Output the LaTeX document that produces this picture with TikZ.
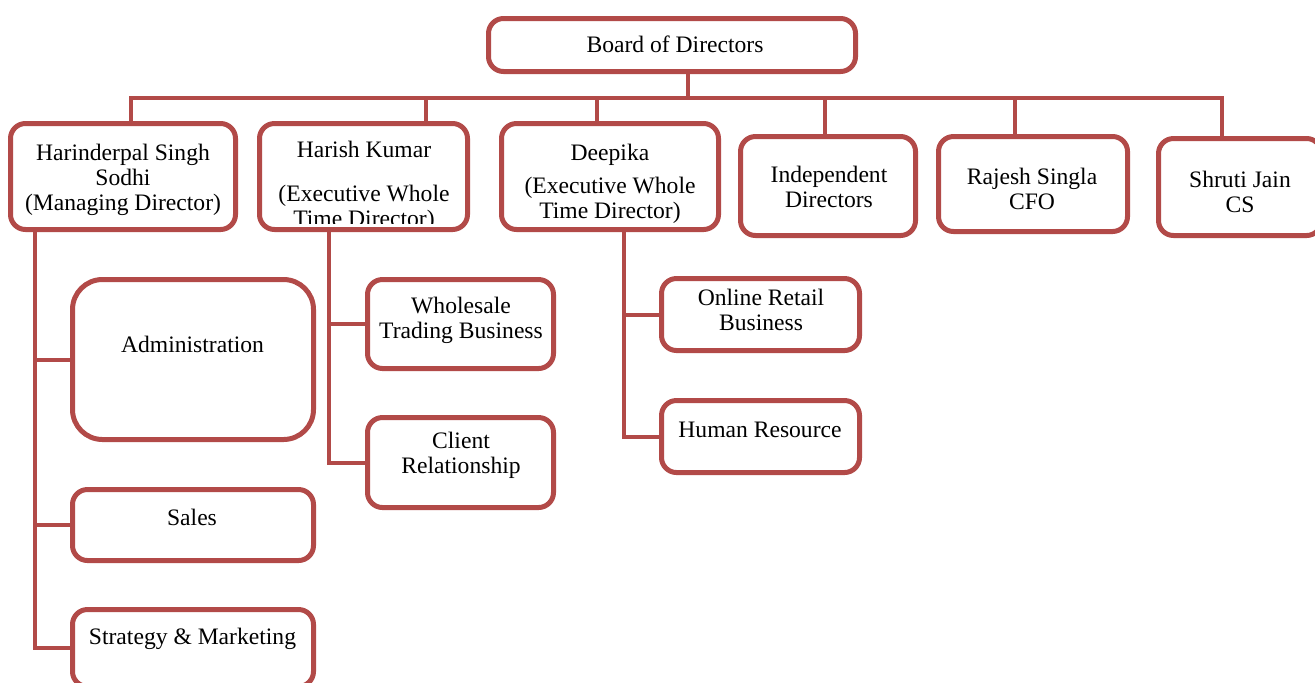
\documentclass[tikz,border=0pt]{standalone}
\usepackage{fontspec}
\setmainfont{Liberation Serif}
\definecolor{boxred}{RGB}{178,74,72}
\tikzstyle{box}=[draw=boxred, line width=2.5pt, rounded corners=7.5pt, inner sep=0pt]
\tikzstyle{txt}=[align=center, inner sep=0pt, yshift=-1pt, font=\fontsize{11.8}{12.5}\selectfont]
\tikzstyle{link}=[draw=boxred, line width=2pt]
\begin{document}
\begin{tikzpicture}[x=0.5pt,y=-0.5pt]
  \useasboundingbox (0,0) rectangle (1315,682);
  % boxes
  \node[box] at (672,45) (board)[minimum width=183.5pt, minimum height=26.5pt] {};
  \node[box] at (123,176.5) (hsodhi)[minimum width=112.5pt, minimum height=53pt] {};
  \node[box] at (363.5,176.5) (hkumar)[minimum width=104pt, minimum height=53pt] {};
  \node[box] at (610,176.5) (deepika)[minimum width=108.5pt, minimum height=53pt] {};
  \node[box] at (828,186) (indep)[minimum width=87.5pt, minimum height=49.5pt] {};
  \node[box] at (1033,184) (rajesh)[minimum width=94.5pt, minimum height=47.5pt] {};
  \node[box] at (1240,187) (shruti)[minimum width=81.5pt, minimum height=48.5pt] {};

  \node[box, rounded corners=15pt] at (193,359.5) (admin)[minimum width=120.5pt, minimum height=80pt] {};
  \node[box] at (193,525) (sales)[minimum width=120.5pt, minimum height=35.5pt] {};
  \node[box] at (193,648) (strat)[minimum width=120.5pt, minimum height=38.5pt] {};
  \node[box] at (460.5,324) (whole)[minimum width=93pt, minimum height=44.5pt] {};
  \node[box] at (460.5,462.5) (client)[minimum width=93pt, minimum height=45pt] {};
  \node[box] at (760.5,314.5) (online)[minimum width=99pt, minimum height=36pt] {};
  \node[box] at (760.5,436.5) (hr)[minimum width=99pt, minimum height=36pt] {};

  % texts
  \node[txt] at (675,42) (boardt) {Board of Directors};
  \node[txt] at (123,177.5) (hsodhit) {Harinderpal Singh\\Sodhi\\(Managing Director)};
  \begin{scope}
    \clip (259.5,123.5) rectangle (467.5,223);
    \node[txt] at (364,184.5) (hkumart) {Harish Kumar\\[9.5pt](Executive Whole\\Time Director)};
  \end{scope}
  \node[txt] at (610,181.5) (deepikat) {Deepika\\[4pt](Executive Whole\\Time Director)};
  \node[txt] at (829,184.5) (indept) {Independent\\Directors};
  \node[txt] at (1032,186.5) (rajesht) {Rajesh Singla\\CFO};
  \node[txt] at (1240,189.5) (shrutit) {Shruti Jain\\CS};
  \node[txt] at (192.5,342) (admint) {Administration};
  \node[txt] at (192,515) (salest) {Sales};
  \node[txt] at (192.5,637) (stratt) {Strategy \& Marketing};
  \node[txt] at (461,318) (wholet) {Wholesale\\Trading Business};
  \node[txt] at (461,453) (clientt) {Client\\Relationship};
  \node[txt] at (761,307.5) (onlinet) {Online Retail\\Business};
  \node[txt] at (760,428) (hrt) {Human Resource};

  % connectors
  \coordinate (bus) at (688,98);
  \coordinate (busW) at (131,98);
  \coordinate (busE) at (1222,98);
  \draw[link] (board.south -| bus) -- (bus);
  \draw[link] (hsodhi.north -| busW) -- (busW) -- (busE) -- (shruti.north -| busE);
  \foreach \n/\x in {hkumar/426, deepika/597, indep/825, rajesh/1015}
    \draw[link] (\x,98) -- (\n.north -| \x,0);

  \foreach \c in {admin,sales,strat}
    \draw[link] (hsodhi.south -| 35,0) |- (\c.west);
  \foreach \c in {whole,client}
    \draw[link] (hkumar.south -| 329,0) |- (\c.west);
  \foreach \c in {online,hr}
    \draw[link] (deepika.south -| 624,0) |- (\c.west);
\end{tikzpicture}
\end{document}
